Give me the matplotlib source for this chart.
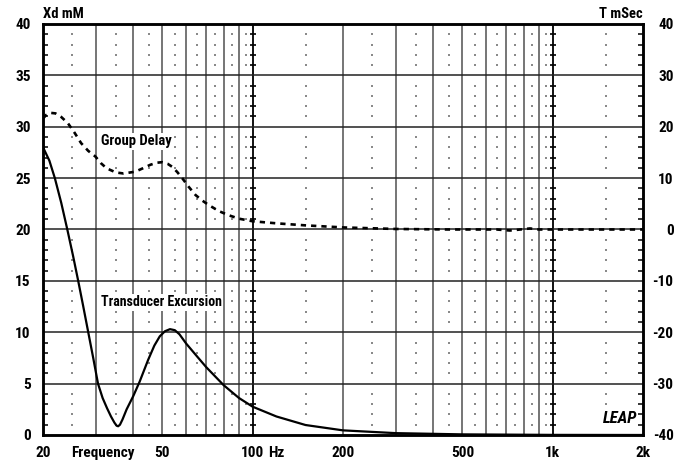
import matplotlib
matplotlib.use("Agg")
import matplotlib.pyplot as plt
import numpy as np

plt.rcParams['font.family'] = ['Roboto Condensed', 'DejaVu Sans']
plt.rcParams['font.stretch'] = 'condensed'
plt.rcParams['font.weight'] = 'bold'
plt.rcParams['axes.unicode_minus'] = False

# transducer excursion, mm (left axis)
exc_freq = [20, 21, 21.9, 23, 24.1, 25.2, 26.2, 27.2, 28.3, 29.4, 30.5, 31.6, 32.7,
            33.7, 34.6, 35.2, 35.6, 36.1, 36.8, 38, 40, 42, 44.8, 47, 49, 51, 53,
            55, 57, 60, 65, 70, 80, 90, 100, 120, 150, 200, 300, 500, 1000, 2000]
exc_mm = [28.0, 26.7, 25.0, 22.6, 20.0, 17.4, 15.0, 12.6, 10.0, 7.5, 5.0, 3.6, 2.6,
          1.8, 1.2, 0.9, 0.85, 1.0, 1.5, 2.5, 3.8, 5.2, 7.3, 8.7, 9.6, 10.1, 10.3,
          10.2, 9.8, 8.9, 7.7, 6.6, 4.85, 3.6, 2.75, 1.8, 0.97, 0.45, 0.18, 0.06, 0.01, 0.0]

# group delay, ms (right axis)
gd_freq = [20, 20.5, 21.2, 22, 23, 24.2, 25.5, 26.8, 28.3, 29.9, 31.2, 32.6, 35,
           37.1, 40.6, 43, 45.6, 48, 49.9, 52, 53.9, 56, 58.2, 61, 64.5, 68, 71.2,
           77, 82.9, 90, 100, 120, 150, 200, 300, 450, 650, 720, 780, 840, 900, 2000]
gd_ms = [21.6, 22.3, 22.7, 22.6, 21.9, 20.7, 18.8, 16.8, 15.3, 14.2, 12.9, 11.9, 11.1,
         10.9, 11.25, 11.9, 12.6, 13.0, 13.1, 12.8, 12.2, 11.2, 10.0, 8.4, 6.7, 5.6, 4.8,
         3.6, 2.8, 2.1, 1.6, 1.2, 0.8, 0.4, 0.1, 0.0, 0.0, -0.2, 0.0, 0.2, 0.0, 0.0]

xticks = [20, 50, 100, 200, 500, 1000, 2000]
xlabels = ['20', '50', '100', '200', '500', '1k', '2k']
major_x = [30, 40, 50, 60, 70, 80, 90, 100, 200, 300, 400, 500, 600, 700, 800, 900, 1000]
dot_x = [25, 35, 45, 55, 65, 75, 85, 95, 150, 250, 350, 450, 550, 650, 750, 850, 950, 1500]

fig = plt.figure(figsize=(6.85, 4.63), dpi=100)
ax = fig.add_axes([0.0628, 0.0605, 0.8759, 0.8877])
ax.set_xscale('log')
ax.set_xlim(20, 2000)
ax.set_ylim(0, 40)

# grid
for x in major_x:
    c = 'black' if x in (100, 1000) else '#6a6a6a'
    ax.axvline(x, color=c, lw=1.3, zorder=1)
for y in range(5, 40, 5):
    ax.axhline(y, color='#222222', lw=1.1, zorder=1)
dy = [y for y in range(1, 40) if y % 5]
dx, dyy = np.meshgrid(dot_x, dy)
ax.scatter(dx.ravel(), dyy.ravel(), s=1.3, color='#8a8a8a', marker='s', lw=0, zorder=1)
for x in (100, 1000):
    ax.scatter([x] * len(dy), dy, s=16, marker='_', color='black', lw=1.2, zorder=1)

ax.plot(exc_freq, exc_mm, color='black', lw=1.6, zorder=3)

ax2 = ax.twinx()
ax2.set_ylim(-40, 40)
ax2.plot(gd_freq, gd_ms, color='black', lw=1.9, ls=(0, (2.0, 1.9)), zorder=3)

for s in ax.spines.values():
    s.set_linewidth(1.8)
for s in ax2.spines.values():
    s.set_linewidth(1.8)

ax.set_xticks(xticks)
ax.set_xticklabels(xlabels)
ax.xaxis.set_minor_locator(plt.NullLocator())
ax.tick_params(axis='x', length=0, pad=8, labelsize=11)
ax.set_yticks(range(0, 41, 5))
ax.set_yticks(range(0, 41), minor=True)
ax.tick_params(axis='y', which='major', length=0, pad=9, labelsize=11)
ax.tick_params(axis='y', which='minor', direction='in', length=3.5, width=1.1)

ax2.set_yticks(range(-40, 41, 10))
ax2.set_yticks(range(-40, 41, 2), minor=True)
ax2.tick_params(axis='y', which='major', length=0, pad=22, labelsize=11)
ax2.tick_params(axis='y', which='minor', direction='in', length=3.5, width=1.1)
for t in ax2.get_yticklabels():
    t.set_horizontalalignment('right')

ax.text(0, 1.008, 'Xd mM', transform=ax.transAxes, ha='left', va='bottom', fontsize=10.5)
ax.text(1, 1.008, 'T mSec', transform=ax.transAxes, ha='right', va='bottom', fontsize=10.5)
ax.annotate('Frequency', xy=(31.7, 0), xycoords=('data', 'axes fraction'),
            xytext=(0, -8), textcoords='offset points', ha='center', va='top', fontsize=11)
ax.annotate('Hz', xy=(100, 0), xycoords=('data', 'axes fraction'),
            xytext=(11, -8), textcoords='offset points', ha='left', va='top', fontsize=11)

bbox = dict(facecolor='white', edgecolor='none', pad=1.0)
ax.text(41, 28.6, 'Group Delay', ha='center', va='center', fontsize=10.5, bbox=bbox, zorder=4)
ax.text(49.7, 12.9, 'Transducer Excursion', ha='center', va='center', fontsize=10,
        bbox=bbox, zorder=4)
ax.text(0.99, 0.022, 'LEAP', transform=ax.transAxes, ha='right', va='bottom',
        fontsize=12, style='italic', bbox=bbox, zorder=4)

fig.savefig('out.png', dpi=100)
